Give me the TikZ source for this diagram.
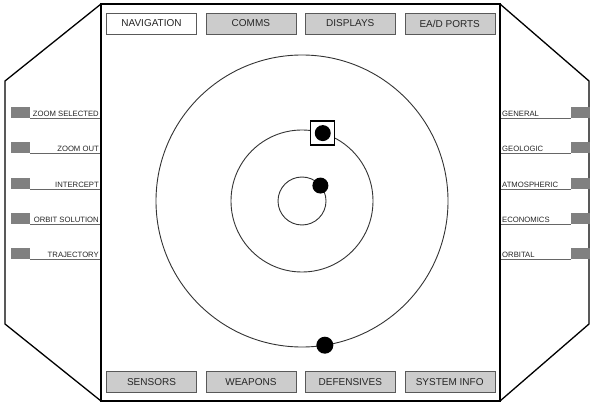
\documentclass[tikz,border=0pt]{standalone}
\usepackage{fontspec}
\setmainfont{Liberation Sans}
\usetikzlibrary{positioning}

\begin{document}
\begin{tikzpicture}[x=1pt, y=-1pt,
  btn/.style={rectangle, draw=gray!70!black, fill=gray!40, text=black!85, minimum width=90pt, minimum height=21pt, inner sep=0pt, font=\fontsize{10}{12}\selectfont},
  sidebox/.style={rectangle, fill=gray, minimum width=19pt, minimum height=11pt, inner sep=0pt},
  leftlabel/.style={anchor=south east, inner sep=1pt, text=black!85, font=\fontsize{7.7}{9}\selectfont},
  rightlabel/.style={anchor=south west, inner sep=1pt, text=black!85, font=\fontsize{7.7}{9}\selectfont},
  uline/.style={draw=gray!80!black, line width=0.8pt},
  orbit/.style={draw=black!80, line width=0.9pt},
  planet/.style={circle, fill=black, minimum size=16pt, inner sep=0pt}]

\useasboundingbox (0,0) rectangle (591,403);

% console frame
\draw[line width=1.3pt] (101,4) -- (5,81) -- (5,324) -- (101,401);
\draw[line width=1.3pt] (500,4) -- (589,81) -- (589,324) -- (500,401);
\draw[line width=1.8pt] (101,4) rectangle (500,401);

% top buttons
\node (nav) [btn, fill=white] at (151.5,23.5) {NAVIGATION};
\node (comms) [btn, right=9pt of nav] {COMMS};
\node (displays) [btn, right=9pt of comms] {DISPLAYS};
\node (ports) [btn, right=9pt of displays] {EA/D PORTS};

% bottom buttons
\node (sensors) [btn] at (151.5,382) {SENSORS};
\node (weapons) [btn, right=9pt of sensors] {WEAPONS};
\node (defensives) [btn, right=9pt of weapons] {DEFENSIVES};
\node (sysinfo) [btn, right=9pt of defensives] {SYSTEM INFO};

% left side menu
\foreach \name/\txt/\ly in {zsel/ZOOM SELECTED/118, zout/ZOOM OUT/153, icpt/INTERCEPT/189, osol/ORBIT SOLUTION/224, traj/TRAJECTORY/259} {
  \node (\name box) [sidebox, anchor=south west] at (11,\ly) {};
  \node (\name) [leftlabel] at (100,\ly) {\txt};
  \draw[uline] (\name box.south east) -- (\name.south east);
}

% right side menu
\foreach \name/\txt/\ly in {gen/GENERAL/118, geo/GEOLOGIC/153, atmo/ATMOSPHERIC/189, econ/ECONOMICS/224, orb/ORBITAL/259} {
  \node (\name box) [sidebox, anchor=south east] at (590,\ly) {};
  \node (\name) [rightlabel] at (501,\ly) {\txt};
  \draw[uline] (\name.south west) -- (\name box.south west);
}

% orbits
\coordinate (sun) at (302,201);
\draw[orbit] (sun) circle[radius=24pt];
\draw[orbit] (sun) circle[radius=71pt];
\draw[orbit] (sun) circle[radius=146pt];

% bodies
\node (moon) [planet] at ([shift={(-40:24)}]sun) {};
\node (sel) [draw, fill=white, line width=1.4pt, minimum size=24pt, inner sep=0pt] at ([shift={(-73:71)}]sun) {};
\node (ship) [planet] at (sel) {};
\node (probe) [planet, minimum size=17pt] at ([shift={(81:146)}]sun) {};

\end{tikzpicture}
\end{document}
